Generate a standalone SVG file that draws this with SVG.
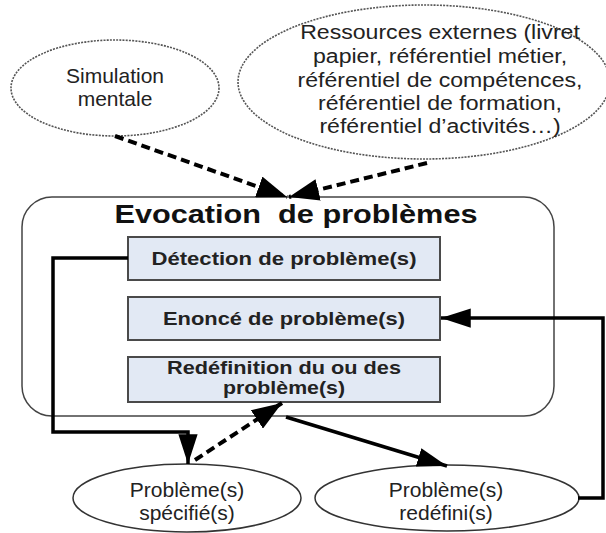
<svg xmlns="http://www.w3.org/2000/svg" width="606" height="533" viewBox="0 0 606 533">
<defs>
<style>
.t{font-family:"Liberation Sans",Arial,sans-serif;fill:#222;text-anchor:middle}
.r{font-size:21px}
.b{font-size:18px;font-weight:bold}
.ttl{font-size:26px;font-weight:bold;fill:#111;white-space:pre}
.dot{fill:#fff;stroke:#555;stroke-width:1.6;stroke-dasharray:2 1.2}
.ell{fill:#fff;stroke:#333;stroke-width:1.5}
.box{fill:#e2e9f4;stroke:#4a4a4a;stroke-width:2}
.solid{fill:none;stroke:#000;stroke-width:3.5}
.dash{fill:none;stroke:#000;stroke-width:4;stroke-dasharray:9 5}
</style>
<marker id="ah" viewBox="0 0 10 10" refX="10" refY="5" markerWidth="8.5" markerHeight="5.5" markerUnits="strokeWidth" orient="auto" preserveAspectRatio="none">
<path d="M0,0 L10,5 L0,10 z" fill="#000"/>
</marker>
<marker id="ah2" viewBox="0 0 10 10" refX="10" refY="5" markerWidth="7.5" markerHeight="5.5" markerUnits="strokeWidth" orient="auto" preserveAspectRatio="none">
<path d="M0,0 L10,5 L0,10 z" fill="#000"/>
</marker>
</defs>
<rect width="606" height="533" fill="#fff"/>

<g id="container">
<rect x="22" y="197" width="532" height="219" rx="30" fill="#fff" stroke="#444" stroke-width="1.5"/>
<text class="t ttl" x="296" y="223" xml:space="preserve" textLength="363" lengthAdjust="spacingAndGlyphs">Evocation  de problèmes</text>
</g>

<g id="simulation">
<ellipse class="dot" cx="115" cy="88" rx="104" ry="48"/>
<text class="t r" x="115" y="83">Simulation</text>
<text class="t r" x="115" y="106">mentale</text>
</g>

<g id="ressources">
<ellipse class="dot" cx="424" cy="82" rx="186" ry="77"/>
<g transform="translate(440,0) scale(1.1,1)">
<text class="t r" x="0" y="39">Ressources externes (livret</text>
<text class="t r" x="0" y="63">papier, référentiel métier,</text>
<text class="t r" x="0" y="87">référentiel de compétences,</text>
<text class="t r" x="0" y="110">référentiel de formation,</text>
<text class="t r" x="0" y="133">référentiel d’activités…)</text>
</g>
</g>

<g id="detection">
<rect class="box" x="128" y="237" width="312" height="43"/>
<text class="t b" x="284" y="265" textLength="265" lengthAdjust="spacingAndGlyphs">Détection de problème(s)</text>
</g>

<g id="enonce">
<rect class="box" x="128" y="297" width="312" height="43"/>
<text class="t b" x="284" y="325" textLength="242" lengthAdjust="spacingAndGlyphs">Enoncé de problème(s)</text>
</g>

<g id="redefinition">
<rect class="box" x="128" y="357" width="312" height="45"/>
<text class="t b" x="284" y="374" textLength="234" lengthAdjust="spacingAndGlyphs">Redéfinition du ou des</text>
<text class="t b" x="284" y="394" textLength="122" lengthAdjust="spacingAndGlyphs">problème(s)</text>
</g>

<g id="specifie">
<ellipse class="ell" cx="187" cy="498" rx="114" ry="34"/>
<text class="t r" x="187" y="497">Problème(s)</text>
<text class="t r" x="187" y="520">spécifié(s)</text>
</g>

<g id="redefini">
<ellipse class="ell" cx="447" cy="498" rx="132" ry="33"/>
<text class="t r" x="446" y="497">Problème(s)</text>
<text class="t r" x="446" y="520">redéfini(s)</text>
</g>

<g id="connectors">
<path class="dash" d="M115,136 L287,197" marker-end="url(#ah2)"/>
<path class="dash" d="M427,163 L289,197" marker-end="url(#ah2)"/>
<path class="solid" d="M128,258 H53 V432 H188 V464" marker-end="url(#ah)"/>
<path class="dash" d="M195,460 L282,403" marker-end="url(#ah2)"/>
<path class="solid" d="M286,417 L447,466" marker-end="url(#ah)"/>
<path class="solid" d="M578,498 H603 V318 H441" marker-end="url(#ah)"/>
</g>
</svg>
